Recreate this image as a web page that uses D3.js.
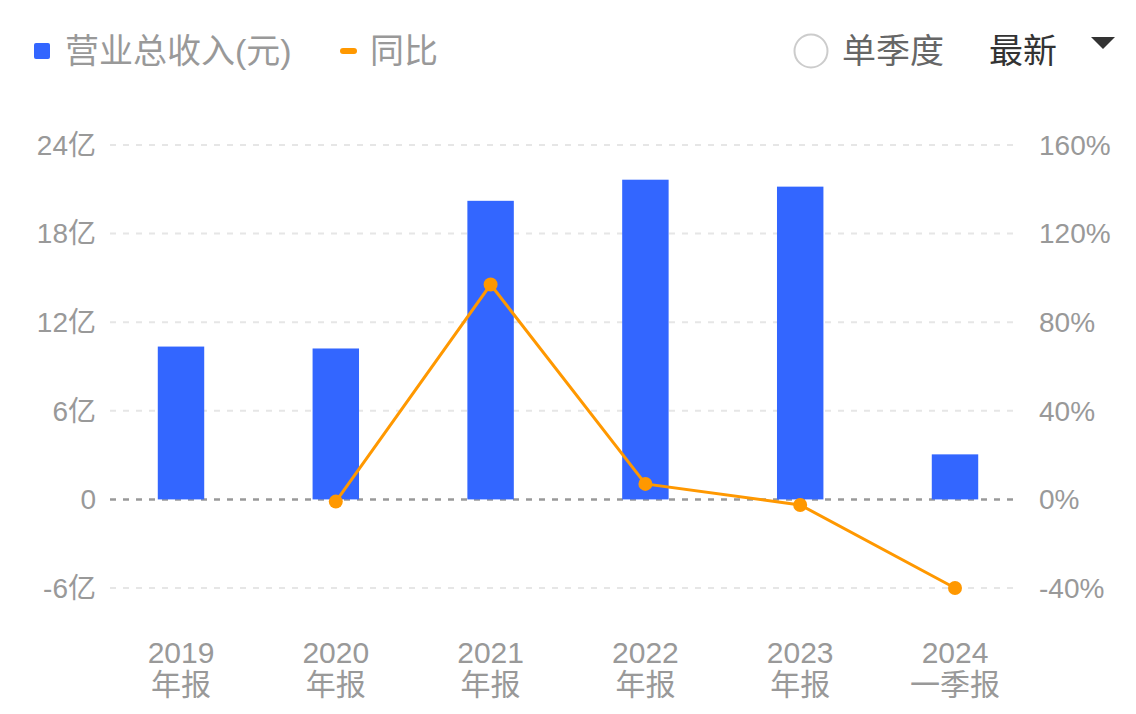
<!DOCTYPE html>
<html>
<head>
<meta charset="utf-8">
<script src="https://cdn.jsdelivr.net/npm/d3@7"></script>
<style>
  body { margin: 0; background: #fff; }
  svg { font-family: "Liberation Sans", "Noto Sans CJK SC", sans-serif; }
</style>
</head>
<body>
<svg width="1136" height="714"></svg>
<script>
// data
var periods = ["2019", "2020", "2021", "2022", "2023", "2024"];
var periodTypes = ["年报", "年报", "年报", "年报", "年报", "一季报"];
var revenue = [10.35, 10.22, 20.22, 21.65, 21.18, 3.05]; // 亿元
var yoy = [null, -1.0, 97.0, 7.0, -2.5, -40.0]; // %
var leftTicks = [-6, 0, 6, 12, 18, 24];
var rightTicks = [-40, 0, 40, 80, 120, 160];

var svg = d3.select("svg"),
    width = +svg.attr("width"),
    height = +svg.attr("height");

var blue = "#3366ff", orange = "#ff9800", gray = "#999";

var x = d3.scaleBand().domain(periods).range([103.6, 1032.4]).paddingInner(0.7).paddingOuter(0.35);
var yL = d3.scaleLinear().domain([-6, 24]).range([588, 145]);
var yR = d3.scaleLinear().domain([-40, 160]).range([588, 145]);

// grid
svg.append("g").selectAll("line")
    .data(leftTicks)
    .enter().append("line")
    .attr("x1", 110).attr("x2", 1020)
    .attr("y1", d => yL(d)).attr("y2", d => yL(d))
    .attr("stroke", d => d === 0 ? "#999" : "#e6e6e6")
    .attr("stroke-width", d => d === 0 ? 2.5 : 2)
    .attr("stroke-dasharray", "6,7");

// left axis labels
svg.append("g").selectAll("text")
    .data(leftTicks)
    .enter().append("text")
    .attr("x", 96).attr("y", d => yL(d))
    .attr("dy", "0.35em")
    .attr("text-anchor", "end")
    .attr("fill", gray)
    .style("font-size", "28px")
    .text(d => d === 0 ? "0" : d + "亿");

// right axis labels
svg.append("g").selectAll("text")
    .data(rightTicks)
    .enter().append("text")
    .attr("x", 1039).attr("y", d => yR(d))
    .attr("dy", "0.35em")
    .attr("fill", gray)
    .style("font-size", "28px")
    .text(d => d + "%");

// bars
svg.append("g").selectAll("rect")
    .data(revenue)
    .enter().append("rect")
    .attr("x", (d, i) => x(periods[i]))
    .attr("width", x.bandwidth())
    .attr("y", d => yL(Math.max(0, d)))
    .attr("height", d => Math.abs(yL(d) - yL(0)))
    .attr("fill", blue);

// line
var pts = yoy.map((v, i) => ({ p: periods[i], v: v })).filter(d => d.v !== null);
var line = d3.line()
    .x(d => x(d.p) + x.bandwidth() / 2)
    .y(d => yR(d.v));
svg.append("path")
    .datum(pts)
    .attr("d", line)
    .attr("fill", "none")
    .attr("stroke", orange)
    .attr("stroke-width", 3);
svg.append("g").selectAll("circle")
    .data(pts)
    .enter().append("circle")
    .attr("cx", d => x(d.p) + x.bandwidth() / 2)
    .attr("cy", d => yR(d.v))
    .attr("r", 7)
    .attr("fill", orange);

// x labels
var xl = svg.append("g").selectAll("text")
    .data(periods)
    .enter().append("text")
    .attr("text-anchor", "middle")
    .attr("fill", gray)
    .style("font-size", "30px");
xl.append("tspan")
    .attr("x", d => x(d) + x.bandwidth() / 2)
    .attr("y", 663)
    .text(d => d);
xl.append("tspan")
    .attr("x", d => x(d) + x.bandwidth() / 2)
    .attr("y", 695)
    .text((d, i) => periodTypes[i]);

// legend
svg.append("rect").attr("x", 34).attr("y", 43).attr("width", 16).attr("height", 16).attr("rx", 2).attr("fill", blue);
svg.append("text").attr("x", 65).attr("y", 51).attr("dy", "0.36em").attr("fill", gray)
    .style("font-size", "34px").text("营业总收入(元)");
svg.append("rect").attr("x", 340).attr("y", 48).attr("width", 17).attr("height", 6).attr("rx", 3).attr("fill", orange);
svg.append("text").attr("x", 370).attr("y", 51).attr("dy", "0.36em").attr("fill", gray)
    .style("font-size", "34px").text("同比");

svg.append("circle").attr("cx", 811).attr("cy", 51).attr("r", 16.5)
    .attr("fill", "none").attr("stroke", "#ccc").attr("stroke-width", 2);
svg.append("text").attr("x", 842).attr("y", 51).attr("dy", "0.36em").attr("fill", "#666")
    .style("font-size", "34px").text("单季度");
svg.append("text").attr("x", 989).attr("y", 51).attr("dy", "0.36em").attr("fill", "#333")
    .style("font-size", "34px").text("最新");
svg.append("path").attr("d", "M1091,37L1115,37L1103,49Z").attr("fill", "#333");
</script>
</body>
</html>
